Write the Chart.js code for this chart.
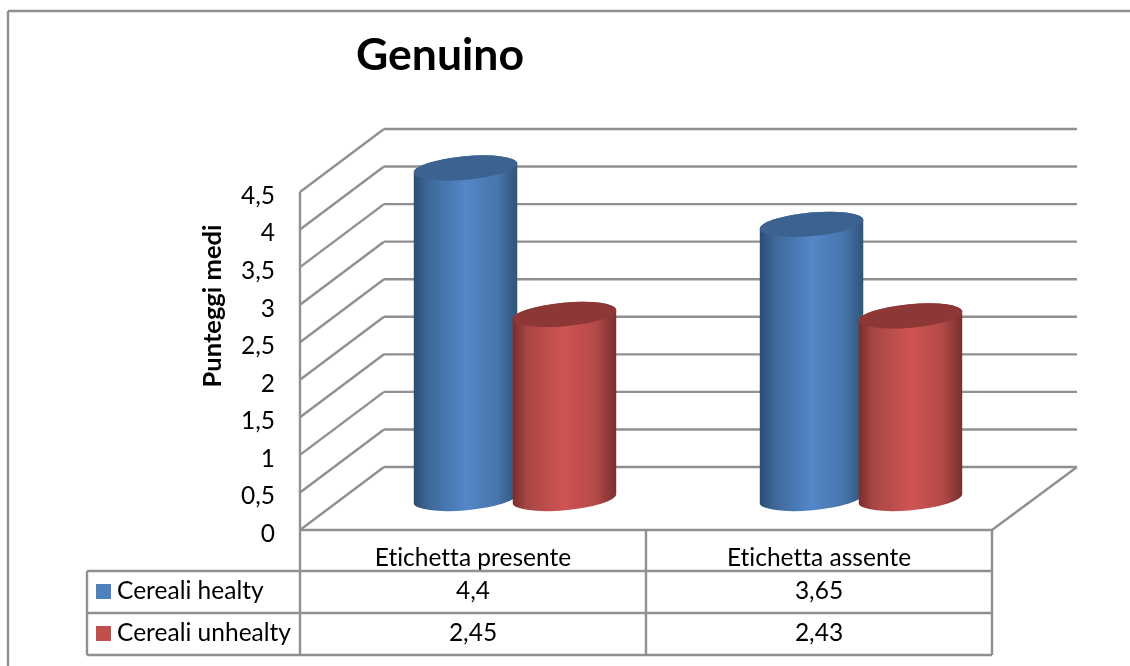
<!DOCTYPE html>
<html>
<head>
<meta charset="utf-8">
<title>Genuino</title>
<style>
  html, body { margin: 0; padding: 0; background: #fff; }
  canvas { display: block; }
</style>
<script src="https://cdn.jsdelivr.net/npm/chart.js@4"></script>
</head>
<body>
<canvas id="myChart" width="1130" height="666"></canvas>
<script>
var chartTitle = 'Genuino';
var yTitle = 'Punteggi medi';
var categories = ['Etichetta presente', 'Etichetta assente'];
var seriesNames = ['Cereali healty', 'Cereali unhealty'];
var healty = [4.4, 3.65];
var unhealty = [2.45, 2.43];

var FONT = 'Lato, sans-serif';
var LINE = '#909090';
var LINE_WIDTH = 2.4;
// how far the back wall sits from the front plane
var WALL_DX = 84, WALL_DY = -63;
var TABLE_LEFT = 87;
var TABLE_ROWS = [571, 613, 655];

var palette = [
  { swatch: '#4f81bd', top: '#3c6290', stops: ['#2b4c74', '#3e6797', '#5387c9', '#4876ad', '#2f5479'] },
  { swatch: '#c0504d', top: '#8d3836', stops: ['#772d2c', '#a84644', '#ce5452', '#b44a48', '#792f2e'] }
];

function comma(v) { return String(v).replace('.', ','); }

function segment(ctx, x1, y1, x2, y2) {
  ctx.beginPath();
  ctx.moveTo(x1, y1);
  ctx.lineTo(x2, y2);
  ctx.stroke();
}

// frame, walls and floor behind the bars
var wallsPlugin = {
  id: 'walls',
  beforeDraw: function (chart) {
    // a non-zero spacing switches off Lato's "tt" ligature
    chart.ctx.letterSpacing = '0.01px';
  },
  beforeDatasetsDraw: function (chart) {
    var ctx = chart.ctx, area = chart.chartArea, y = chart.scales.y;
    ctx.save();
    ctx.strokeStyle = LINE;
    ctx.lineWidth = LINE_WIDTH;
    segment(ctx, 8, 11, 1130, 11);
    segment(ctx, 8, 11, 8, 666);
    y.ticks.forEach(function (t) {
      var py = y.getPixelForValue(t.value);
      segment(ctx, area.left, py, area.left + WALL_DX, py + WALL_DY);
      segment(ctx, area.left + WALL_DX, py + WALL_DY, area.right + WALL_DX + 1, py + WALL_DY);
    });
    segment(ctx, area.left, area.top, area.left, area.bottom);
    segment(ctx, area.left, area.bottom, area.right, area.bottom);
    segment(ctx, area.right, area.bottom, area.right + WALL_DX + 1, area.bottom + WALL_DY);
    ctx.restore();
  }
};

function drawCylinder(ctx, bar, colors) {
  var cx = bar.x + WALL_DX / 2;
  var topY = bar.y + WALL_DY / 2;
  var baseY = bar.base + WALL_DY / 2;
  var rx = bar.width / 2, ry = 11.8, tilt = -0.09;
  var grad = ctx.createLinearGradient(cx - rx, 0, cx + rx, 0);
  var offsets = [0, 0.14, 0.5, 0.8, 1];
  colors.stops.forEach(function (c, i) { grad.addColorStop(offsets[i], c); });

  ctx.beginPath();
  ctx.ellipse(cx, baseY, rx, ry, tilt, 0, Math.PI);
  ctx.ellipse(cx, topY, rx, ry, tilt, Math.PI, Math.PI * 2);
  ctx.closePath();
  ctx.fillStyle = grad;
  ctx.fill();

  ctx.beginPath();
  ctx.ellipse(cx, topY, rx, ry, tilt, 0, Math.PI * 2);
  ctx.fillStyle = colors.top;
  ctx.fill();
}

// cylinders take their position from the bar elements, so they follow the scales
var cylinderPlugin = {
  id: 'cylinders',
  afterDatasetsDraw: function (chart) {
    var ctx = chart.ctx;
    ctx.save();
    categories.forEach(function (c, i) {
      chart.data.datasets.forEach(function (ds, d) {
        drawCylinder(ctx, chart.getDatasetMeta(d).data[i], palette[d]);
      });
    });
    ctx.restore();
  }
};

// data table under the plot, plus the two titles
var tablePlugin = {
  id: 'dataTable',
  afterDraw: function (chart) {
    var ctx = chart.ctx, area = chart.chartArea, x = chart.scales.x;
    var rows = TABLE_ROWS;
    var split = (x.getPixelForValue(0) + x.getPixelForValue(1)) / 2;
    ctx.save();
    ctx.strokeStyle = LINE;
    ctx.lineWidth = LINE_WIDTH;
    rows.forEach(function (r) { segment(ctx, TABLE_LEFT, r, area.right, r); });
    segment(ctx, TABLE_LEFT, rows[0], TABLE_LEFT, rows[2]);
    segment(ctx, area.left, area.bottom, area.left, rows[2]);
    segment(ctx, split, area.bottom, split, rows[2]);
    segment(ctx, area.right, area.bottom, area.right, rows[2]);

    ctx.textBaseline = 'middle';
    chart.data.datasets.forEach(function (ds, d) {
      var midY = (rows[d] + rows[d + 1]) / 2 - 1;
      ctx.fillStyle = palette[d].swatch;
      ctx.fillRect(96, midY - 7, 15, 15);
      ctx.fillStyle = '#000';
      ctx.font = '24.5px ' + FONT;
      ctx.textAlign = 'left';
      ctx.fillText(ds.label, 117, midY);
      ctx.textAlign = 'center';
      ds.data.forEach(function (v, i) {
        ctx.fillText(comma(v), x.getPixelForValue(i), midY);
      });
    });

    ctx.fillStyle = '#000';
    ctx.font = 'bold 44.5px ' + FONT;
    ctx.textAlign = 'center';
    ctx.fillText(chartTitle, 440, 56);

    ctx.translate(213, 306);
    ctx.rotate(-Math.PI / 2);
    ctx.font = 'bold 25.5px ' + FONT;
    ctx.fillText(yTitle, 0, 0);
    ctx.restore();
  }
};

var myChart = new Chart(document.getElementById('myChart'), {
  type: 'bar',
  data: {
    labels: categories,
    datasets: [
      { label: seriesNames[0], data: healty, backgroundColor: 'transparent' },
      { label: seriesNames[1], data: unhealty, backgroundColor: 'transparent' }
    ]
  },
  options: {
    responsive: false,
    animation: false,
    categoryPercentage: 0.572,
    barPercentage: 1.05,
    layout: { padding: { top: 192, right: 138, bottom: 0, left: 0 } },
    plugins: { legend: { display: false }, title: { display: false }, tooltip: { enabled: false } },
    scales: {
      x: {
        grid: { display: false, drawTicks: false },
        border: { display: false },
        ticks: { color: '#000', padding: 13, font: { family: FONT, size: 24.5 }, maxRotation: 0 },
        afterFit: function (scale) { scale.height = 136; }
      },
      y: {
        min: 0,
        max: 4.5,
        grid: { display: false, drawTicks: false },
        border: { display: false },
        ticks: {
          stepSize: 0.5,
          color: '#000',
          padding: 25,
          labelOffset: 4,
          font: { family: FONT, size: 24.5 },
          callback: function (v) { return comma(v); }
        },
        afterFit: function (scale) { scale.width = 300; }
      }
    }
  },
  plugins: [wallsPlugin, cylinderPlugin, tablePlugin]
});
</script>
</body>
</html>
